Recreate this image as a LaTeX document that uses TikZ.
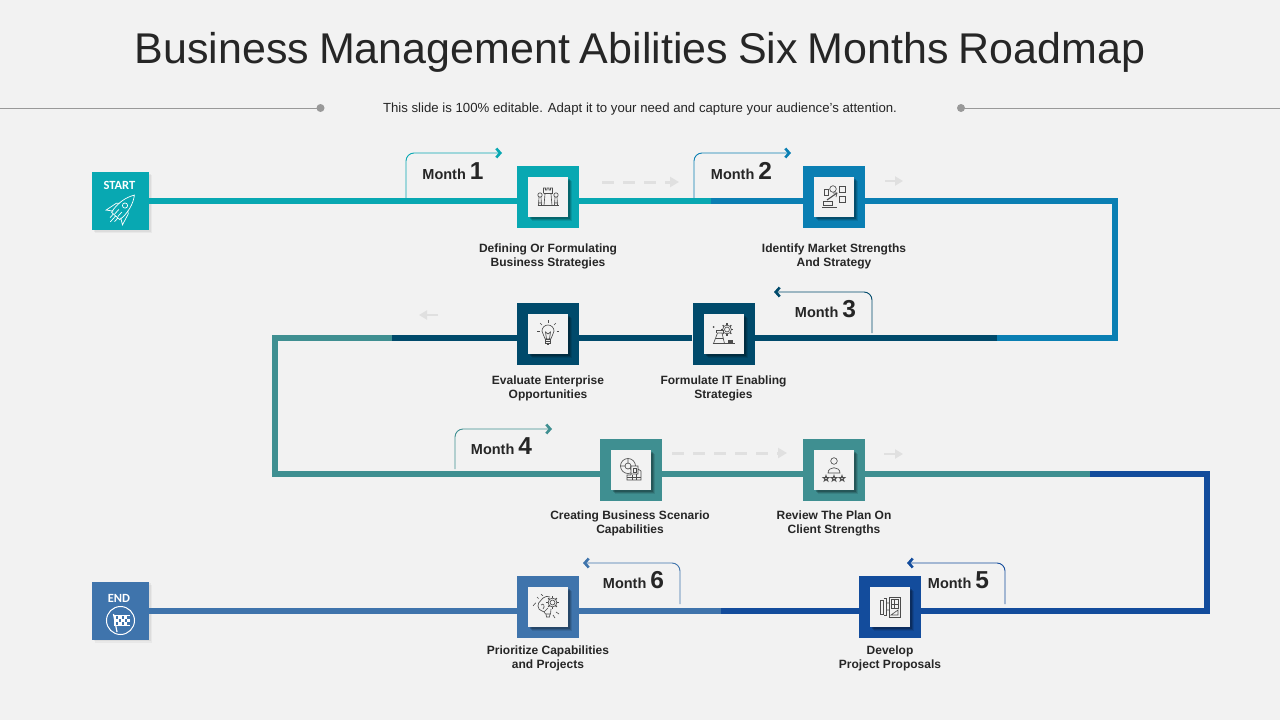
\documentclass[tikz,border=0pt]{standalone}
\usepackage{fontspec}
\setmainfont{Liberation Sans}
\newfontfamily\capfont{Carlito}
\usetikzlibrary{arrows.meta,shadows}
\definecolor{pagebg}{HTML}{F2F2F2}
\definecolor{inktext}{HTML}{262626}
\definecolor{cteal}{HTML}{08A8B2}
\definecolor{cblue}{HTML}{0A7FB3}
\definecolor{cnavy}{HTML}{004A6B}
\definecolor{cgreen}{HTML}{3F8F91}
\definecolor{cdeep}{HTML}{134C9C}
\definecolor{csteel}{HTML}{3F74AC}
\newcommand{\monthnum}[1]{{\fontsize{24.5}{24.5}\selectfont #1}}
\begin{document}
\begin{tikzpicture}
	[x=1pt,y=-1pt,
	trunk/.style={line width=6pt},
	stepbox/.style={rectangle,draw=none,inner sep=0pt,minimum size=62pt},
	tilebox/.style={rectangle,draw=none,fill=pagebg,inner sep=0pt,minimum size=40pt,
		drop shadow={shadow xshift=4pt,shadow yshift=-4pt,fill=black,opacity=.1},
		drop shadow={shadow xshift=3pt,shadow yshift=-3pt,fill=black,opacity=.15},
		drop shadow={shadow xshift=2pt,shadow yshift=-2pt,fill=black,opacity=.2}},
	endbox/.style={rectangle,draw=none,inner sep=0pt,minimum width=57pt,minimum height=58pt,
		drop shadow={shadow xshift=3pt,shadow yshift=-3pt,fill=black,opacity=.04},
		drop shadow={shadow xshift=1.5pt,shadow yshift=-1.5pt,fill=black,opacity=.05}},
	endtext/.style={text=white,font=\capfont\bfseries\fontsize{12.5}{13}\selectfont},
	caption/.style={align=center,text=inktext,font=\bfseries\fontsize{12}{14}\selectfont},
	monthtag/.style={anchor=base,text=inktext,font=\bfseries\fontsize{14.5}{16}\selectfont},
	tagline/.style={line width=.9pt,rounded corners=8pt,-{Straight Barb[length=4pt,width=9pt,line width=2.6pt]}},
	hintdash/.style={draw=black!12,line width=3pt,dash pattern=on 12pt off 9pt,-{Triangle[length=9pt,width=10pt]}},
	hintshort/.style={draw=black!12,line width=2.5pt,-{Triangle[length=8pt,width=9pt]}},
	rule/.style={draw=black!40,line width=.8pt},
	iconline/.style={draw=black!70,line width=.65pt},
	pics/gearmark/.style={code={
		\draw[iconline] (0,0) circle (#1*.45);
		\draw[iconline] (0,0) circle (#1*.8);
		\foreach \a in {0,45,...,315}
			\draw[iconline,line width=1.1pt] (\a:#1*.8) -- (\a:#1*1.1);
	}},
	pics/rookicon/.style={code={
		\draw[iconline] (-10.5,8.5) -- (10.5,8.5);
		\draw[iconline] (-4,8.5) -- (-3,-3) -- (-4.5,-4) -- (-4.5,-9) -- (-2.5,-9) -- (-2.5,-7) -- (-1,-7) -- (-1,-9) -- (1,-9) -- (1,-7) -- (2.5,-7) -- (2.5,-9) -- (4.5,-9) -- (4.5,-4) -- (3,-3) -- (4,8.5);
		\draw[iconline] (-4.5,-4) -- (4.5,-4);
		\foreach \s in {-1,1} {
			\draw[iconline] (\s*8,-2) circle (2.2);
			\draw[iconline] (\s*6.5,8.5) -- (\s*7,0) (\s*9.5,8.5) -- (\s*9,0) (\s*6,6) -- (\s*10,6);
		}
	}},
	pics/marketicon/.style={code={
		\draw[iconline] (-10,-8) rectangle (-6,-2);
		\draw[iconline] (-1,-8) circle (3.3);
		\draw[iconline] (5,-11) rectangle (11,-5);
		\draw[iconline] (5,-1) rectangle (11,5);
		\draw[iconline] (-11,4) rectangle (-2,8);
		\draw[iconline] (-12,10) -- (3,10);
		\draw[iconline,line width=1.1pt] (-7,3) -- (3,-4);
		\draw[iconline] (-1,-4) -- (3,-4) -- (2,0);
	}},
	pics/bulbicon/.style={code={
		\draw[iconline] (-2.8,5) .. controls (-3,2) and (-6,.5) .. (-6,-3) arc (180:360:6) .. controls (6,.5) and (3,2) .. (2.8,5) -- cycle;
		\draw[iconline] (-2.5,5) rectangle (2.5,9);
		\draw[iconline] (-2.5,7) -- (2.5,7) (-1.2,10.5) -- (1.2,10.5);
		\draw[iconline] (-1.5,5) -- (-2.5,-2) -- (0,0) -- (2.5,-2) -- (1.5,5);
		\foreach \a in {180,225,...,360}
			\draw[iconline] ([shift={(0,-3)}]\a:8.5) -- ([shift={(0,-3)}]\a:11);
	}},
	pics/towericon/.style={code={
		\draw[iconline] (-11,9.5) -- (11,9.5);
		\draw[iconline] (-10,9.5) -- (-6,-1) -- (-1.5,-1) -- (1,9.5);
		\draw[iconline] (-7.5,-1) -- (-7.5,-4) -- (-.5,-4) -- (-.5,-1);
		\draw[iconline] (-8,4) -- (-.5,4);
		\fill[black!70] (4,6) rectangle (9,9.5);
		\fill[black!70] (-10,-7) circle (1);
		\pic at (3.5,-4.5) {gearmark=5.5};
	}},
	pics/globeicon/.style={code={
		\draw[iconline] (-3,-4) circle (7.5);
		\draw[iconline] (-3,-4) circle (3);
		\draw[iconline] (-3,-11.5) -- (-3,-7) (-10.5,-4) -- (-6,-4) (-1,-2) -- (2,3);
		\fill[pagebg] (0,-4) rectangle (10,6);
		\draw[iconline] (0,-4) rectangle (7,4) (7,-1) -- (10,1) -- (10,10) -- (-4,10) -- (-4,5) -- (0,5);
		\draw[iconline] (2,-2) rectangle (5,2) (-4,7.5) -- (10,7.5) (1,5) -- (1,10) (5.5,4) -- (5.5,10);
	}},
	pics/reviewicon/.style={code={
		\draw[iconline] (0,-9) circle (3.3);
		\draw[iconline] (-6,3) .. controls (-6,-4) and (6,-4) .. (6,3) -- cycle;
		\foreach \x in {-8,0,8}
			\draw[iconline,shift={(\x,8.5)}] (-90:3.4) -- (54:3.4) -- (198:3.4) -- (-18:3.4) -- (126:3.4) -- cycle;
	}},
	pics/planicon/.style={code={
		\draw[iconline] (-10,-7) rectangle (-6.5,7);
		\draw[iconline] (-6.5,-9) -- (-3.5,-9) -- (-3.5,8) -- (-6.5,8);
		\draw[iconline] (-1,-10) rectangle (10,10);
		\draw[iconline] (1,-8) rectangle (8,1) (4,-8) -- (4,1) (1,-3) -- (8,-3);
		\draw[iconline] (1,8) -- (8,3) -- (8,8) -- cycle (-3.5,3) -- (-1,3) (-3.5,-4) -- (-1,-4);
	}},
	pics/gearbulbicon/.style={code={
		\draw[iconline] (-2.5,7) .. controls (-3,3) and (-10,5) .. (-10,-1) .. controls (-10,-6) and (-6,-6) .. (-5,-9) .. controls (-3,-11) and (0,-11) .. (2,-10);
		\draw[iconline] (-2.5,7) -- (2.5,7) -- (3,2);
		\draw[iconline] (-2,7) -- (-1.5,10) -- (1.5,10) -- (2,7);
		\draw[iconline] (-7,-2) .. controls (-4,-5) and (-3,0) .. (-5,2) (-4,5) -- (0,1);
		\foreach \a/\b in {-160/-175,-135/-135,-110/-115}
			\draw[iconline] ([shift={(-1,0)}]\a:12) -- ([shift={(-1,0)}]\b:14);
		\draw[iconline] (8,5) -- (11,7) (5,8) -- (7,11);
		\pic at (4.5,-4.5) {gearmark=5.5};
	}}
	]
	\fill[pagebg] (0,0) rectangle (1280,720);
	\useasboundingbox (0,0) rectangle (1280,720);

	\node[text=inktext,font=\fontsize{43}{50}\selectfont] (title) at (640,52) {\spaceskip=10pt Business Management Abilities Six Months Roadmap};
	\node[text=inktext,font=\fontsize{13.2}{15}\selectfont] (subtitle) at (640,109) {This slide is 100\% editable. Adapt it to your need and capture your audience's attention.};
	\coordinate (ruleL) at (0,108);
	\coordinate (dotL) at (320.5,108);
	\coordinate (dotR) at (961,108);
	\coordinate (ruleR) at (1280,108);
	\draw[rule] (ruleL) -- (dotL);
	\draw[rule] (dotR) -- (ruleR);
	\fill[black!40] (dotL) circle (4);
	\fill[black!40] (dotR) circle (4);

	\node[endbox,fill=cteal] (start) at (120.5,201) {};
	\node[endbox,fill=csteel] (finish) at (120.5,610.5) {};
	\node[stepbox,fill=cteal] (s1) at (548,197) {};
	\node[stepbox,fill=cblue] (s2) at (834,197) {};
	\node[stepbox,fill=cnavy] (s3) at (723.5,334) {};
	\node[stepbox,fill=cnavy] (s4) at (548,334) {};
	\node[stepbox,fill=cgreen] (s5) at (631,470) {};
	\node[stepbox,fill=cgreen] (s6) at (834,470) {};
	\node[stepbox,fill=cdeep] (s7) at (890,607) {};
	\node[stepbox,fill=csteel] (s8) at (548,607) {};

	\coordinate (split1) at (711,201);
	\coordinate (bendA) at (1115,201);
	\coordinate (bendB) at (1115,338);
	\coordinate (split2) at (997,338);
	\coordinate (split3) at (392,338);
	\coordinate (bendC) at (275,338);
	\coordinate (bendD) at (275,474);
	\coordinate (split4) at (1090,474);
	\coordinate (bendE) at (1207,474);
	\coordinate (bendF) at (1207,611);
	\coordinate (split5) at (721,611);

	\draw[trunk,cteal] (start.east |- split1) -- (s1.west |- split1) (s1.east |- split1) -- (split1);
	\draw[trunk,cblue] (split1) -- (s2.west |- split1) (s2.east |- split1) -- (bendA) -- (bendB) -- (split2);
	\draw[trunk,cnavy] (split2) -- (s3.east |- split2) (s3.west |- split2) -- (s4.east |- split2) (s4.west |- split2) -- (split3);
	\draw[trunk,cgreen] (split3) -- (bendC) -- (bendD) -- (s5.west |- bendD) (s5.east |- bendD) -- (s6.west |- bendD) (s6.east |- bendD) -- (split4);
	\draw[trunk,cdeep] (split4) -- (bendE) -- (bendF) -- (s7.east |- bendF) (s7.west |- bendF) -- (split5);
	\draw[trunk,csteel] (split5) -- (s8.east |- split5) (s8.west |- split5) -- (finish.east |- split5);

	\node[tilebox] (t1) at (s1) {};
	\node[tilebox] (t2) at (s2) {};
	\node[tilebox] (t3) at (s3) {};
	\node[tilebox] (t4) at (s4) {};
	\node[tilebox] (t5) at (s5) {};
	\node[tilebox] (t6) at (s6) {};
	\node[tilebox] (t7) at (s7) {};
	\node[tilebox] (t8) at (s8) {};

	\pic at (t1) {rookicon};
	\pic at (t2) {marketicon};
	\pic at (t3) {towericon};
	\pic at (t4) {bulbicon};
	\pic at (t5) {globeicon};
	\pic at (t6) {reviewicon};
	\pic at (t7) {planicon};
	\pic at (t8) {gearbulbicon};

	\node[caption] (c1) at (548,256) {Defining Or Formulating\\Business Strategies};
	\node[caption] (c2) at (834,256) {Identify Market Strengths\\And Strategy};
	\node[caption] (c3) at (723.5,388) {Formulate IT Enabling\\Strategies};
	\node[caption] (c4) at (548,388) {Evaluate Enterprise\\Opportunities};
	\node[caption] (c5) at (630,523) {Creating Business Scenario\\Capabilities};
	\node[caption] (c6) at (834,523) {Review The Plan On\\Client Strengths};
	\node[caption] (c7) at (890,658) {Develop\\Project Proposals};
	\node[caption] (c8) at (548,658) {Prioritize Capabilities\\and Projects};

	\node[monthtag] (m1) at (453,179) {Month \monthnum{1}};
	\node[monthtag] (m2) at (741.5,179) {Month \monthnum{2}};
	\node[monthtag] (m3) at (825.5,317) {Month \monthnum{3}};
	\node[monthtag] (m4) at (501.5,454) {Month \monthnum{4}};
	\node[monthtag] (m5) at (958.5,588) {Month \monthnum{5}};
	\node[monthtag] (m6) at (633.5,588) {Month \monthnum{6}};

	\coordinate (tag1a) at (406,198);
	\coordinate (tag1b) at (502,153);
	\coordinate (tag2a) at (694,198);
	\coordinate (tag2b) at (791,153);
	\coordinate (tag3a) at (872,333);
	\coordinate (tag3b) at (774,292);
	\coordinate (tag4a) at (455,469);
	\coordinate (tag4b) at (552,429);
	\coordinate (tag5a) at (1005,604);
	\coordinate (tag5b) at (907,563);
	\coordinate (tag6a) at (680,604);
	\coordinate (tag6b) at (583,563);
	\draw[tagline,cteal] (tag1a) |- (tag1b);
	\draw[tagline,cblue] (tag2a) |- (tag2b);
	\draw[tagline,cnavy] (tag3a) |- (tag3b);
	\draw[tagline,cgreen] (tag4a) |- (tag4b);
	\draw[tagline,cdeep] (tag5a) |- (tag5b);
	\draw[tagline,csteel] (tag6a) |- (tag6b);

	\coordinate (hint1a) at (602,182);
	\coordinate (hint1b) at (679,182);
	\coordinate (hint2a) at (885,181);
	\coordinate (hint2b) at (903,181);
	\coordinate (hint3a) at (438,315);
	\coordinate (hint3b) at (419,315);
	\coordinate (hint4a) at (672,453);
	\coordinate (hint4b) at (787,453);
	\coordinate (hint5a) at (884,454);
	\coordinate (hint5b) at (903,454);
	\draw[hintdash] (hint1a) -- (hint1b);
	\draw[hintshort] (hint2a) -- (hint2b);
	\draw[hintshort] (hint3a) -- (hint3b);
	\draw[hintdash] (hint4a) -- (hint4b);
	\draw[hintshort] (hint5a) -- (hint5b);

	\node[endtext] (startlabel) at (119.5,185) {START};
	\node[endtext] (endlabel) at (119,598) {END};

	\begin{scope}[shift={(121,210)},rotate=-42,line width=.7pt]
		\draw[white] (-5.5,8) .. controls (-7.5,-2) and (-5,-13) .. (0,-20) .. controls (5,-13) and (7.5,-2) .. (5.5,8) -- cycle;
		\draw[white] (-5.5,-4) -- (-8,-2) -- (-11,10) -- (-5,6);
		\draw[white] (5.5,-4) -- (8,-2) -- (11,10) -- (5,6);
		\draw[white] (0,-6) circle (2.6);
		\draw[white] (-3,8) -- (-3,13) (0,8) -- (0,16) (3,8) -- (3,13) (-2,1) -- (-2,7) (2,1) -- (2,7);
	\end{scope}

	\draw[white,line width=1pt] (120.5,620.5) circle (14);
	\draw[white,line width=1.2pt] (113.5,614) -- (117,632);
	\fill[white] (114,615) rectangle (130,625.5);
	\foreach \x/\y in {115.5/616,121.5/616,127/616,118.5/619.2,124.5/619.2,115.5/622.4,121.5/622.4,127/622.4}
		\fill[csteel] (\x,\y) rectangle ++(2.6,2.6);
\end{tikzpicture}
\end{document}
